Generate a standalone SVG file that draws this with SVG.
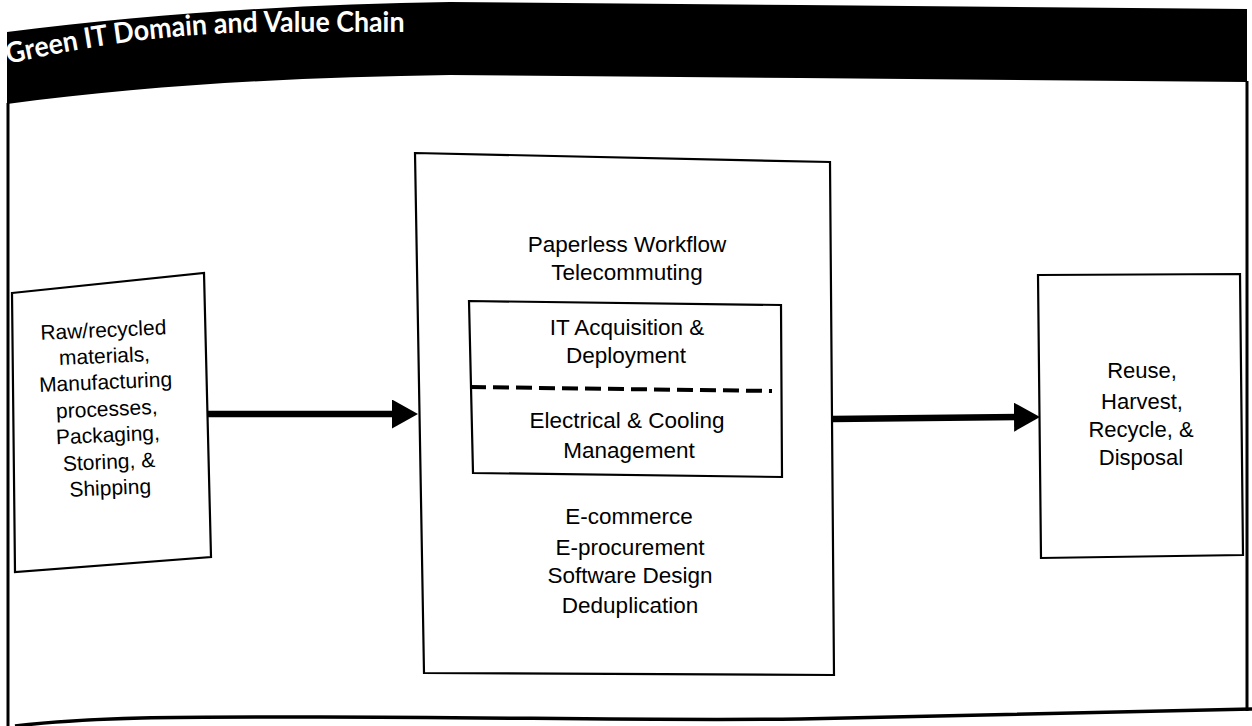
<svg xmlns="http://www.w3.org/2000/svg" width="1252" height="726" viewBox="0 0 1252 726">
  <style>
    .box { fill: #ffffff; stroke: #000000; stroke-width: 2.2; stroke-linejoin: miter; }
    .lbl { font-family: "Liberation Sans", Arial, sans-serif; fill: #000000; text-anchor: middle; }
    .frame { fill: none; stroke: #000000; stroke-width: 3; }
    .conn { stroke: #000000; stroke-width: 6.5; fill: none; }
    .title { font-family: Lato, "Open Sans", sans-serif; font-weight: 700; font-size: 28.5px; fill: #ffffff; }
  </style>
  <defs>
    <marker id="arrow" viewBox="0 0 26 29" refX="16" refY="14.5" markerWidth="26" markerHeight="29" markerUnits="userSpaceOnUse" orient="auto">
      <polygon points="0,0 26,14.5 0,29" fill="#000000"/>
    </marker>
    <path id="titlePath" d="M 8,64 C 90,45 170,34 260,32 L 430,32"/>
  </defs>
  <rect width="1252" height="726" fill="#ffffff"/>

  <g id="header">
    <path d="M 7,32 C 150,14 300,4 450,2 L 800,5 L 1247,9 L 1247,82 L 800,78 L 450,75 C 300,77 150,85 7,104 Z" fill="#000000"/>
    <text class="title"><textPath href="#titlePath" textLength="399" lengthAdjust="spacingAndGlyphs">Green IT Domain and Value Chain</textPath></text>
  </g>

  <g id="frame">
    <path class="frame" d="M 8,103 L 8,726"/>
    <path class="frame" d="M 1247,81 L 1247,711"/>
    <path d="M 15,726 C 100,716 200,717 320,717 C 500,717 650,721 800,719 C 1000,716 1150,712 1252,709" fill="none" stroke="#000000" stroke-width="3.5"/>
  </g>

  <g id="connectors">
    <line class="conn" x1="207" y1="414" x2="408" y2="414" marker-end="url(#arrow)"/>
    <line class="conn" x1="832" y1="419" x2="1030" y2="417" marker-end="url(#arrow)"/>
  </g>

  <g id="node-inputs">
    <polygon class="box" points="12,293 204,273 211,557 15,572"/>
    <g transform="rotate(-2.5 107 415)">
      <text class="lbl" font-size="21" x="107" y="337">Raw/recycled</text>
      <text class="lbl" font-size="21" x="107" y="363">materials,</text>
      <text class="lbl" font-size="21" x="107" y="389">Manufacturing</text>
      <text class="lbl" font-size="21" x="107" y="416">processes,</text>
      <text class="lbl" font-size="21" x="107" y="442">Packaging,</text>
      <text class="lbl" font-size="21" x="107" y="469">Storing, &amp;</text>
      <text class="lbl" font-size="21" x="107" y="495">Shipping</text>
    </g>
  </g>

  <g id="node-operations">
    <polygon class="box" points="415,153 830,162 834,675 424,673"/>
    <text class="lbl" font-size="22.5" x="627" y="252">Paperless Workflow</text>
    <text class="lbl" font-size="22.5" x="627" y="280">Telecommuting</text>
    <text class="lbl" font-size="22.5" x="629" y="524">E-commerce</text>
    <text class="lbl" font-size="22.5" x="630" y="555">E-procurement</text>
    <text class="lbl" font-size="22.5" x="630" y="583">Software Design</text>
    <text class="lbl" font-size="22.5" x="630" y="613">Deduplication</text>
  </g>

  <g id="node-datacenter">
    <polygon class="box" points="469,301 781,305 782,477 473,473"/>
    <text class="lbl" font-size="22.5" x="627" y="335">IT Acquisition &amp;</text>
    <text class="lbl" font-size="22.5" x="626" y="363">Deployment</text>
    <line x1="470" y1="387" x2="772" y2="391" stroke="#000000" stroke-width="4" stroke-dasharray="16 7"/>
    <text class="lbl" font-size="22.5" x="627" y="428">Electrical &amp; Cooling</text>
    <text class="lbl" font-size="22.5" x="629" y="458">Management</text>
  </g>

  <g id="node-endoflife">
    <polygon class="box" points="1038,275 1240,274 1243,555 1041,558"/>
    <text class="lbl" font-size="22" x="1142" y="378">Reuse,</text>
    <text class="lbl" font-size="22" x="1142" y="409">Harvest,</text>
    <text class="lbl" font-size="22" x="1141" y="437">Recycle, &amp;</text>
    <text class="lbl" font-size="22" x="1141" y="465">Disposal</text>
  </g>
</svg>
